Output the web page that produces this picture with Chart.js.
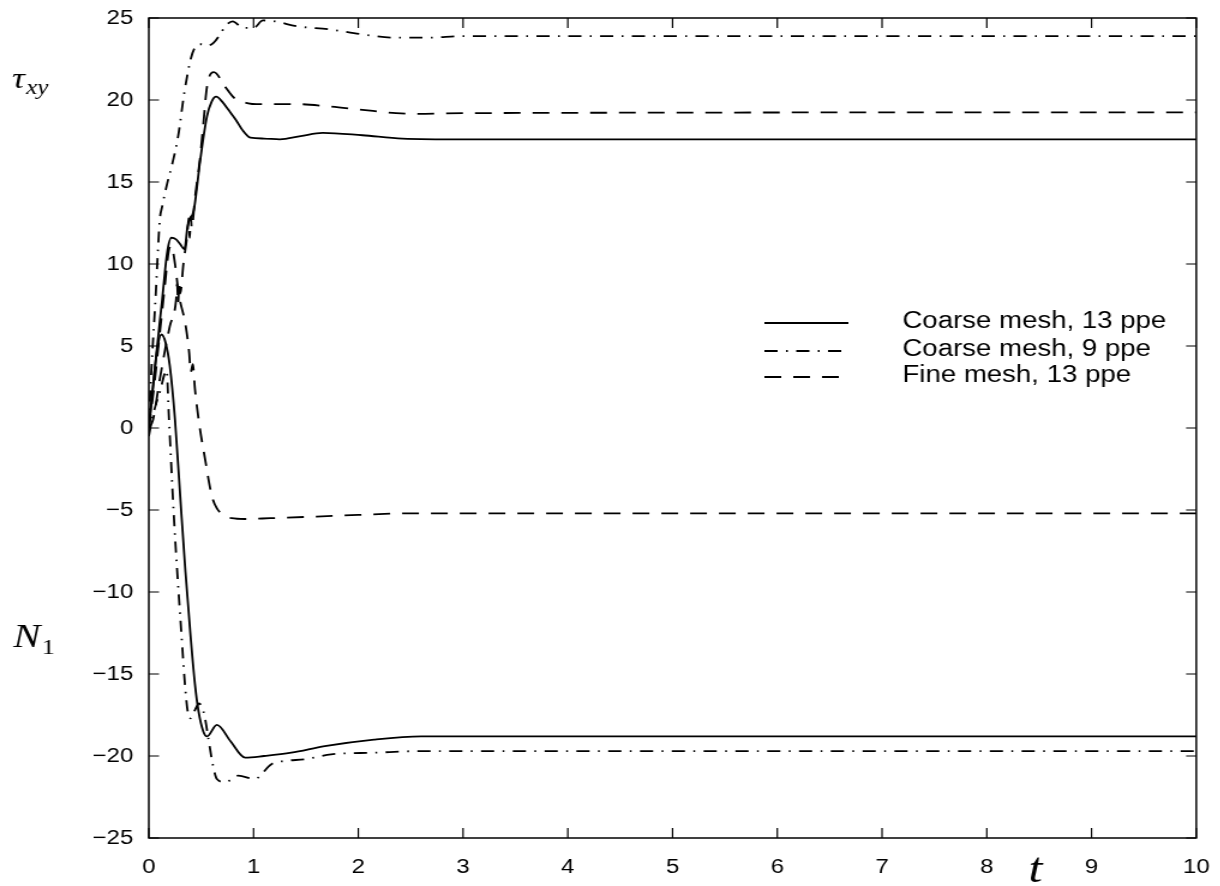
<!DOCTYPE html>
<html>
<head>
<meta charset="utf-8">
<script src="https://cdn.jsdelivr.net/npm/chart.js@4"></script>
<style>
html, body { margin: 0; padding: 0; background: #fff; overflow: hidden; }
#wrap { width: 1220px; height: 886px; overflow: hidden; }
/* the original figure is stretched sideways, so the canvas is too */
#chart { transform: scaleX(1.2); transform-origin: 0 0; }
</style>
</head>
<body>
<div id="wrap"><canvas id="chart" width="1017" height="886"></canvas></div>
<script>
const xTicks = [0, 1, 2, 3, 4, 5, 6, 7, 8, 9, 10];
const yTicks = [-25, -20, -15, -10, -5, 0, 5, 10, 15, 20, 25];
const seriesNames = ['Coarse mesh, 13 ppe', 'Coarse mesh, 9 ppe', 'Fine mesh, 13 ppe'];

// tau_xy, coarse mesh 13 ppe (solid)
const tTauC13 = [0, 0.06, 0.127, 0.175, 0.215, 0.26, 0.30, 0.34, 0.37, 0.43, 0.49, 0.555, 0.60, 0.643, 0.70, 0.76, 0.83, 0.89, 0.97, 1.1, 1.25, 1.45, 1.66, 2.04, 2.42, 3.0, 10];
const vTauC13 = [0, 3.8, 7.8, 10.7, 11.6, 11.5, 11.2, 10.9, 12.3, 13.3, 16.3, 19.0, 19.9, 20.2, 19.9, 19.4, 18.8, 18.2, 17.7, 17.65, 17.6, 17.8, 18.0, 17.85, 17.65, 17.6, 17.6];

// tau_xy, coarse mesh 9 ppe (dash-dot)
const tTauC9 = [0, 0.017, 0.063, 0.105, 0.127, 0.175, 0.22, 0.28, 0.34, 0.40, 0.44, 0.50, 0.55, 0.62, 0.68, 0.73, 0.80, 0.90, 1.0, 1.09, 1.2, 1.41, 1.73, 2.04, 2.36, 2.67, 3.0, 10];
const vTauC9 = [0, 2.6, 7.8, 12.7, 13.5, 14.9, 16.0, 17.8, 20.5, 22.5, 23.2, 23.4, 23.3, 23.5, 24.0, 24.5, 24.8, 24.4, 24.4, 24.85, 24.8, 24.5, 24.3, 24.0, 23.8, 23.8, 23.9, 23.9];

// tau_xy, fine mesh 13 ppe (dashed)
const tTauF13 = [0, 0.04, 0.10, 0.15, 0.20, 0.26, 0.27, 0.28, 0.29, 0.30, 0.33, 0.37, 0.38, 0.39, 0.40, 0.41, 0.44, 0.49, 0.52, 0.555, 0.62, 0.73, 0.82, 0.95, 1.03, 1.41, 1.73, 2.04, 2.36, 2.55, 3.0, 10];
const vTauF13 = [0, 0.5, 2.8, 4.6, 6.2, 7.8, 8.8, 7.6, 8.9, 8.2, 10.0, 12.0, 12.8, 11.6, 12.9, 12.2, 14.0, 16.5, 18.5, 20.8, 21.7, 20.8, 20.1, 19.8, 19.75, 19.75, 19.6, 19.4, 19.2, 19.15, 19.2, 19.25];

// N1, coarse mesh 13 ppe (solid)
const tN1C13 = [0, 0.04, 0.08, 0.12, 0.16, 0.20, 0.25, 0.30, 0.35, 0.40, 0.44, 0.475, 0.52, 0.555, 0.65, 0.78, 0.92, 1.1, 1.36, 1.68, 2.15, 2.6, 3.0, 10];
const vN1C13 = [0, 2.5, 4.8, 5.7, 5.2, 3.8, 0.5, -4.2, -8.8, -12.8, -15.6, -17.3, -18.5, -18.8, -18.1, -19.1, -20.1, -20.0, -19.8, -19.4, -19.0, -18.8, -18.8, -18.8];

// N1, coarse mesh 9 ppe (dash-dot)
const tN1C9 = [0, 0.03, 0.07, 0.11, 0.15, 0.17, 0.19, 0.24, 0.30, 0.365, 0.40, 0.44, 0.48, 0.53, 0.57, 0.61, 0.65, 0.73, 0.855, 1.01, 1.17, 1.30, 1.49, 1.74, 2.15, 2.6, 10];
const vN1C9 = [-0.5, 0.5, 1.5, 2.3, 3.3, 3.5, 0.9, -5.5, -11.5, -17.0, -17.7, -17.2, -16.8, -17.5, -19.0, -20.5, -21.4, -21.6, -21.2, -21.4, -20.5, -20.3, -20.2, -19.9, -19.8, -19.7, -19.7];

// N1, fine mesh 13 ppe (dashed)
const tN1F13 = [0, 0.05, 0.10, 0.15, 0.19, 0.215, 0.25, 0.285, 0.35, 0.385, 0.40, 0.42, 0.44, 0.48, 0.54, 0.60, 0.65, 0.72, 0.79, 0.92, 1.16, 1.6, 2.0, 2.5, 3.0, 10];
const vN1F13 = [0, 2.5, 5.5, 8.5, 10.8, 11.1, 10.0, 8.2, 6.3, 4.6, 3.4, 3.9, 2.4, 0.3, -2.0, -4.1, -4.9, -5.3, -5.5, -5.55, -5.5, -5.4, -5.3, -5.2, -5.2, -5.2];

const DASH = [14, 10];
const DASHDOT = [11, 7, 1.5, 7];

function pts(ts, vs) {
    return ts.map((t, i) => ({ x: t, y: vs[i] }));
}

function line(label, ts, vs, dash) {
    return {
        label: label,
        data: pts(ts, vs),
        borderColor: '#000',
        borderWidth: 1.8,
        borderDash: dash,
        pointRadius: 0,
        fill: false,
        cubicInterpolationMode: 'monotone'
    };
}

const datasets = [
    line(seriesNames[0], tTauC13, vTauC13, []),
    line(seriesNames[1], tTauC9, vTauC9, DASHDOT),
    line(seriesNames[2], tTauF13, vTauF13, DASH),
    line(seriesNames[0], tN1C13, vN1C13, []),
    line(seriesNames[1], tN1C9, vN1C9, DASHDOT),
    line(seriesNames[2], tN1F13, vN1F13, DASH)
];

const tickFont = { family: '"Liberation Sans", Arial, sans-serif', size: 20 };

// frame with inward ticks, legend and the TeX style axis symbols
const framePlugin = {
    id: 'frame',
    afterDraw(chart) {
        const ctx = chart.ctx;
        const a = chart.chartArea;
        const x = chart.scales.x;
        const y = chart.scales.y;
        ctx.save();
        ctx.strokeStyle = '#000';
        ctx.lineWidth = 1.5;
        ctx.setLineDash([]);
        ctx.strokeRect(a.left, a.top, a.right - a.left, a.bottom - a.top);

        ctx.lineWidth = 1.2;
        ctx.beginPath();
        xTicks.forEach(v => {
            const px = x.getPixelForValue(v);
            ctx.moveTo(px, a.bottom); ctx.lineTo(px, a.bottom - 10);
            ctx.moveTo(px, a.top); ctx.lineTo(px, a.top + 10);
        });
        yTicks.forEach(v => {
            const py = y.getPixelForValue(v);
            ctx.moveTo(a.left, py); ctx.lineTo(a.left + 8.5, py);
            ctx.moveTo(a.right, py); ctx.lineTo(a.right - 8.5, py);
        });
        ctx.stroke();

        // legend, first three datasets carry the styles
        const rows = [323, 351, 377];
        ctx.font = '23px "Liberation Sans", Arial, sans-serif';
        ctx.fillStyle = '#000';
        ctx.textBaseline = 'middle';
        ctx.textAlign = 'left';
        for (let i = 0; i < 3; i++) {
            const ds = chart.data.datasets[i];
            ctx.lineWidth = ds.borderWidth;
            ctx.setLineDash(ds.borderDash);
            ctx.beginPath();
            ctx.moveTo(637, rows[i]);
            ctx.lineTo(707, rows[i]);
            ctx.stroke();
            ctx.fillText(ds.label, 752, rows[i] - 1);
        }
        ctx.setLineDash([]);

        // axis symbols
        ctx.textBaseline = 'alphabetic';
        const serif = '"Liberation Serif", "DejaVu Serif", serif';
        ctx.font = 'italic 30px ' + serif;
        ctx.fillText('\u03c4', 10, 88);
        let w = ctx.measureText('\u03c4').width;
        ctx.font = 'italic 21px ' + serif;
        ctx.fillText('xy', 10 + w + 1, 94);

        ctx.font = 'italic 34px ' + serif;
        ctx.fillText('N', 11, 647);
        w = ctx.measureText('N').width;
        ctx.font = '22px ' + serif;
        ctx.fillText('1', 11 + w + 1, 654);

        ctx.font = 'italic 42px ' + serif;
        ctx.fillText('t', 857, 882);
        ctx.restore();
    }
};

const chart = new Chart(document.getElementById('chart').getContext('2d'), {
    type: 'line',
    data: { datasets: datasets },
    options: {
        responsive: false,
        animation: false,
        devicePixelRatio: 1,
        layout: { padding: { left: 0, top: 18, right: 16, bottom: 0 } },
        plugins: { legend: { display: false }, tooltip: { enabled: false } },
        scales: {
            x: {
                type: 'linear',
                min: 0,
                max: 10,
                afterBuildTicks: s => { s.ticks = xTicks.map(v => ({ value: v })); },
                afterFit: s => { s.height = 48; },
                grid: { display: false },
                border: { display: false },
                ticks: { color: '#000', font: tickFont, padding: 9, maxRotation: 0 }
            },
            y: {
                type: 'linear',
                min: -25,
                max: 25,
                afterBuildTicks: s => { s.ticks = yTicks.map(v => ({ value: v })); },
                afterFit: s => { s.width = 124; },
                grid: { display: false },
                border: { display: false },
                ticks: {
                    color: '#000',
                    font: tickFont,
                    padding: 5,
                    callback: v => (v < 0 ? '\u2212' + Math.abs(v) : String(v))
                }
            }
        }
    },
    plugins: [framePlugin]
});
</script>
</body>
</html>
